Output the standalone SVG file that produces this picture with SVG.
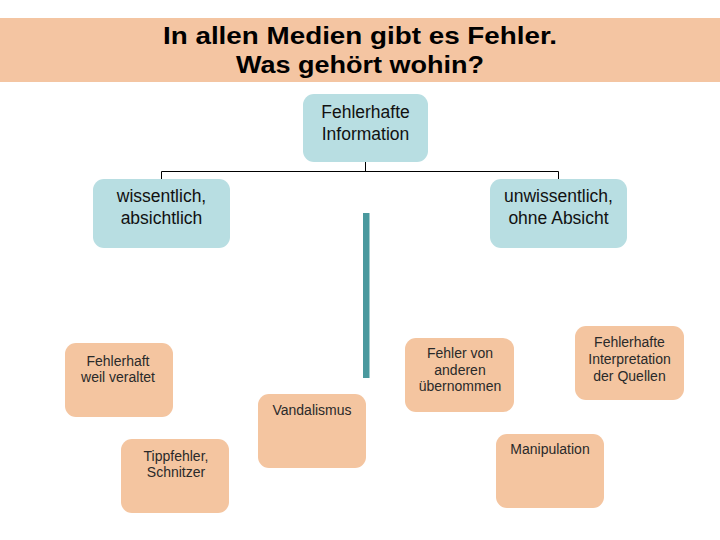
<svg xmlns="http://www.w3.org/2000/svg" width="720" height="540" viewBox="0 0 720 540">
<style>
.blue{fill:#B8DEE2}
.orange{fill:#F4C5A0}
.t1{font-family:"Liberation Sans",Arial,sans-serif;font-size:17.5px;fill:#111;text-anchor:middle}
.t2{font-family:"Liberation Sans",Arial,sans-serif;font-size:14px;fill:#2a2a2a;text-anchor:middle}
.title{font-family:"Liberation Sans",Arial,sans-serif;font-size:23px;font-weight:bold;fill:#000;text-anchor:middle}
.conn{fill:none;stroke:#000;stroke-width:1}
</style>
<rect width="720" height="540" fill="#fff"/>
<g id="title">
<rect x="0" y="18" width="720" height="64" fill="#F4C5A2"/>
<text class="title" x="360" y="44" textLength="394" lengthAdjust="spacingAndGlyphs">In allen Medien gibt es Fehler.</text>
<text class="title" x="360" y="73" textLength="248" lengthAdjust="spacingAndGlyphs">Was gehört wohin?</text>
</g>
<g id="connectors">
<path class="conn" d="M365.5 162V171.5M161.5 180V171.5H558.5V180"/>
<rect x="363" y="213" width="6.5" height="165" fill="#4A999E"/>
</g>
<g id="n-root">
<rect class="blue" x="303" y="94" width="125" height="68" rx="11"/>
<text class="t1" x="365.5" y="118">Fehlerhafte</text>
<text class="t1" x="365.5" y="140">Information</text>
</g>
<g id="n-wissentlich">
<rect class="blue" x="93" y="179" width="137" height="69" rx="11"/>
<text class="t1" x="161.5" y="202">wissentlich,</text>
<text class="t1" x="161.5" y="224">absichtlich</text>
</g>
<g id="n-unwissentlich">
<rect class="blue" x="490" y="179" width="137" height="69" rx="11"/>
<text class="t1" x="558.5" y="202">unwissentlich,</text>
<text class="t1" x="558.5" y="224">ohne Absicht</text>
</g>
<g id="n-veraltet">
<rect class="orange" x="65" y="343" width="108" height="74" rx="11"/>
<text class="t2" x="118" y="366">Fehlerhaft</text>
<text class="t2" x="118" y="382">weil veraltet</text>
</g>
<g id="n-vandalismus">
<rect class="orange" x="258" y="394" width="108" height="74" rx="11"/>
<text class="t2" x="312" y="415">Vandalismus</text>
</g>
<g id="n-tippfehler">
<rect class="orange" x="121" y="439" width="108" height="74" rx="11"/>
<text class="t2" x="176" y="461">Tippfehler,</text>
<text class="t2" x="176" y="477">Schnitzer</text>
</g>
<g id="n-andere">
<rect class="orange" x="405" y="338" width="109" height="74" rx="11"/>
<text class="t2" x="460" y="358">Fehler von</text>
<text class="t2" x="460" y="375">anderen</text>
<text class="t2" x="460" y="391">übernommen</text>
</g>
<g id="n-interpretation">
<rect class="orange" x="575" y="326" width="109" height="74" rx="11"/>
<text class="t2" x="629.5" y="347">Fehlerhafte</text>
<text class="t2" x="629.5" y="364">Interpretation</text>
<text class="t2" x="629.5" y="381">der Quellen</text>
</g>
<g id="n-manipulation">
<rect class="orange" x="496" y="434" width="108" height="74" rx="11"/>
<text class="t2" x="550" y="454">Manipulation</text>
</g>
</svg>
